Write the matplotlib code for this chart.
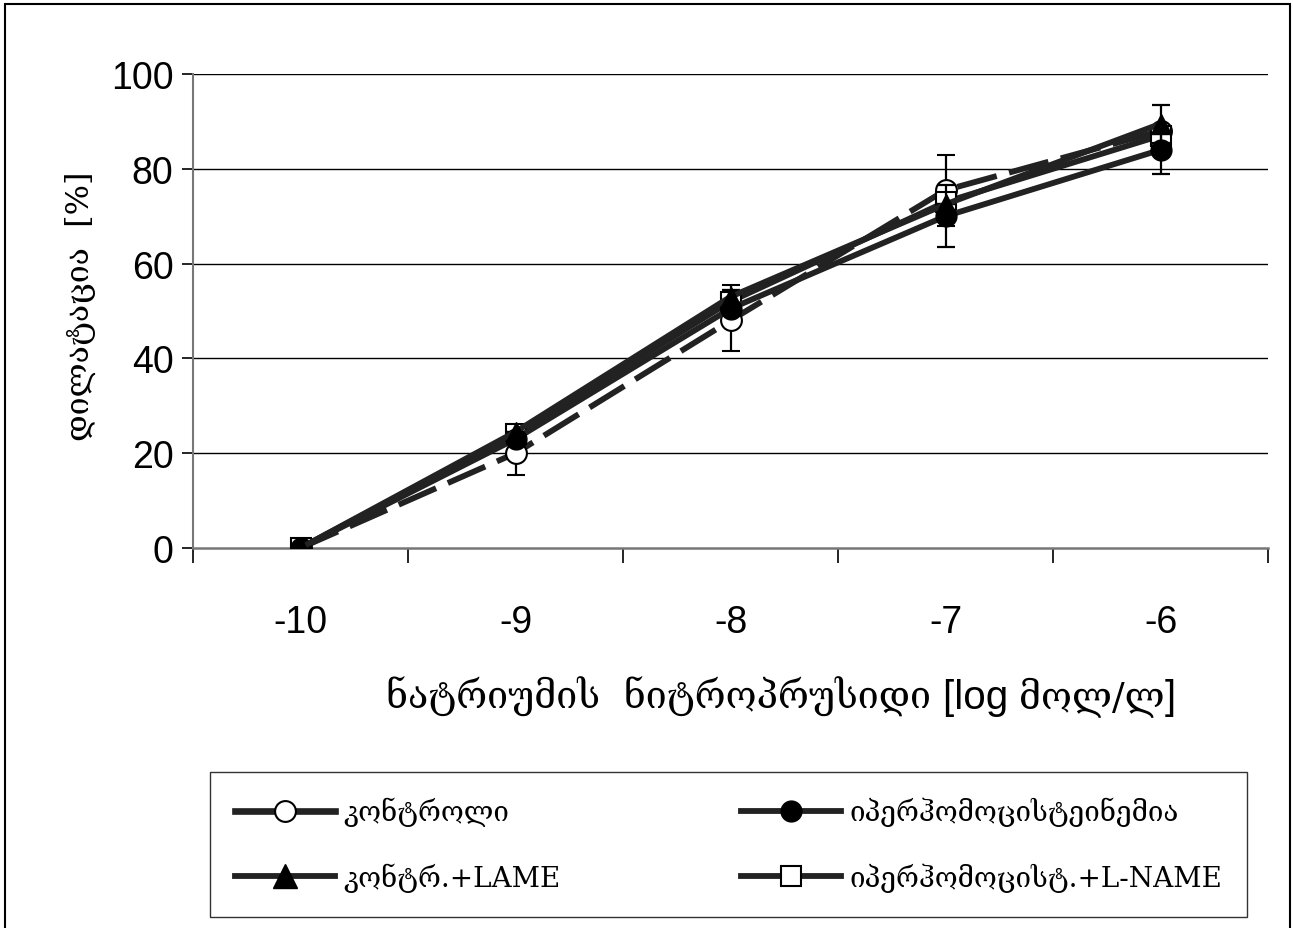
import matplotlib
matplotlib.use("Agg")
import matplotlib.pyplot as plt
from matplotlib.patches import Rectangle
from matplotlib.lines import Line2D
from matplotlib.offsetbox import TextArea, HPacker, AnchoredOffsetbox
import numpy as np

# ---- data ----
categories = ["-10", "-9", "-8", "-7", "-6"]
control = [0, 20, 48, 75.5, 88]
control_err = [0, 4.5, 6.5, 7.5, 0]
hyper = [0, 23, 50.5, 70, 84]
hyper_err = [0, 0, 0, 6.5, 5]
lame = [0, 24.5, 53, 72.5, 89.5]
lame_err = [0, 0, 1.5, 0, 4]
lname = [0, 24, 52, 73, 87]
lname_err = [0, 0, 3.5, 0, 0]
labels = ["კონტროლი", "იპერჰომოცისტეინემია", "კონტრ.+LAME", "იპერჰომოცისტ.+L-NAME"]
y_ticks = [0, 20, 40, 60, 80, 100]

GEO = ["DejaVu Serif", "DejaVu Sans"]
SANS = ["Liberation Sans", "DejaVu Sans"]

fig = plt.figure(figsize=(12.93, 9.29), dpi=100)
ax = fig.add_axes([193/1293, 1-549/929, (1268-193)/1293, (549-75)/929])

x = np.arange(len(categories))
lw = 4.2
ms = 15
ekw = dict(ecolor="black", elinewidth=1.6, capsize=6.5, capthick=1.6)
dash = (0, (7, 2.2))

ax.errorbar(x, control, yerr=control_err, color="#222222", lw=lw,
            linestyle=dash, marker="o", ms=ms, mfc="white",
            mec="black", mew=1.5, zorder=3, **ekw)
ax.errorbar(x, hyper, yerr=hyper_err, color="#222222", lw=lw, marker="o",
            ms=ms, mfc="black", mec="black", zorder=4, **ekw)
ax.errorbar(x, lame, yerr=lame_err, color="#222222", lw=lw, marker="^",
            ms=ms, mfc="black", mec="black", zorder=4, **ekw)
ax.errorbar(x, lname, yerr=lname_err, color="#222222", lw=lw, marker="s",
            ms=ms - 1, mfc="white", mec="black", mew=1.5, zorder=3, **ekw)

ax.set_xlim(-0.5, len(categories) - 0.5)
ax.set_ylim(0, 100)
ax.set_yticks(y_ticks)
ax.set_yticklabels([str(v) for v in y_ticks], fontfamily=SANS, fontsize=27)
ax.set_xticks(x)
ax.set_xticklabels(categories, fontfamily=SANS, fontsize=27)
ax.set_xticks(np.arange(-0.5, len(categories), 1.0), minor=True)
ax.tick_params(axis="x", which="major", length=0, pad=40)
ax.tick_params(axis="x", which="minor", length=11, width=1.2, color="black", direction="out")
ax.tick_params(axis="y", which="major", length=8, width=1.2, color="black", direction="out", pad=6)

for v in y_ticks[1:]:
    ax.axhline(v, color="black", lw=1.0, zorder=1)
for s in ["top", "right"]:
    ax.spines[s].set_visible(False)
ax.spines["left"].set_color("#777777")
ax.spines["bottom"].set_color("#777777")
ax.spines["left"].set_linewidth(1.5)
ax.spines["bottom"].set_linewidth(1.8)

# y label
fig.text(80/1293, 1-306/929, "დილატაცია  [%]", rotation=90, ha="center", va="center",
         fontfamily=GEO, fontsize=23)

# x label (mixed fonts)
parts = [TextArea("ნატრიუმის  ნიტროპრუსიდი ", textprops=dict(fontfamily=GEO, fontsize=27)),
         TextArea("[log ", textprops=dict(fontfamily=SANS, fontsize=29)),
         TextArea("მოლ/ლ", textprops=dict(fontfamily=GEO, fontsize=27)),
         TextArea("]", textprops=dict(fontfamily=SANS, fontsize=29))]
pack = HPacker(children=parts, align="baseline", pad=0, sep=0)
ab = AnchoredOffsetbox(loc="center", child=pack, frameon=False,
                       bbox_to_anchor=(781/1293, 1-697/929), bbox_transform=fig.transFigure,
                       borderpad=0, pad=0)
fig.add_artist(ab)

# legend
hl_ctrl = Line2D([], [], color="#222222", lw=lw + 0.6, linestyle="-", marker="o", ms=ms,
                 mfc="white", mec="black", mew=1.5)
hl_hyp = Line2D([], [], color="#222222", lw=lw, marker="o", ms=ms, mfc="black", mec="black")
hl_lame = Line2D([], [], color="#222222", lw=lw, marker="^", ms=ms + 2, mfc="black", mec="black")
hl_lname = Line2D([], [], color="#222222", lw=lw, marker="s", ms=ms - 1, mfc="white",
                  mec="black", mew=1.5)
leg = fig.legend([hl_ctrl, hl_lame, hl_hyp, hl_lname],
                 [labels[0], labels[2], labels[1], labels[3]],
                 ncol=2, loc="lower left",
                 bbox_to_anchor=(210/1293, 1-918/929, (1247-210)/1293, (918-775)/929),
                 mode="expand", frameon=True, fancybox=False, edgecolor="black",
                 prop=dict(family=GEO, size=20), handlelength=3.6, handletextpad=0.3,
                 labelspacing=1.3, borderpad=0.9, borderaxespad=0)
leg.get_frame().set_linewidth(1.0)

# outer frame
fig.add_artist(Rectangle((5/1293, -0.02), (1290-5)/1293, 1-5/929 + 0.02, transform=fig.transFigure,
                         fill=False, edgecolor="black", lw=1.5))

fig.savefig("out.png", dpi=100)
